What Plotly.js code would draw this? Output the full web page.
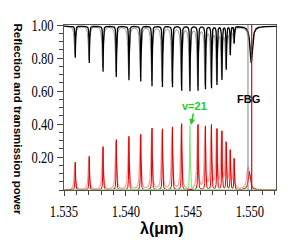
<!DOCTYPE html>
<html>
<head>
<meta charset="utf-8">
<script src="https://cdn.plot.ly/plotly-3.0.1.min.js"></script>
<style>html,body{margin:0;padding:0;background:#fff;}#chart{width:292px;height:246px;}</style>
</head>
<body>
<div id="chart"></div>
<script>
// ---- data (wavelength in micrometres) ----
const resonanceWl = [1.53591, 1.53704, 1.53815, 1.53922, 1.54024, 1.54119, 1.54210, 1.54294, 1.54375, 1.54449,
                     1.54516, 1.54581, 1.54641, 1.54690, 1.54734, 1.54774, 1.54809, 1.54842, 1.54873];
const transmissionPeak = [0.17, 0.205, 0.265, 0.305, 0.325, 0.34, 0.375, 0.37, 0.385, 0.405,
                          0.395, 0.40, 0.39, 0.395, 0.37, 0.355, 0.29, 0.24, 0.19];
const reflectionDip = [0.80, 0.77, 0.715, 0.685, 0.665, 0.655, 0.63, 0.625, 0.62, 0.60,
                       0.60, 0.60, 0.61, 0.62, 0.64, 0.67, 0.73, 0.82, 0.89];
const highlightIndex = 10;           // v = 21
const highlightLabel = "v=21";
const fbgLine = 1.55014;             // FBG reflection line
const fbgMarker = 1.54984;           // grey marker line
const fbgDipCentre = 1.55010, fbgDipMin = 0.77;
const fbgBumpCentre = 1.54985, fbgBumpHeight = 0.14;
const xTickVals = [1.535, 1.540, 1.545, 1.550];
const xTickText = ["1.535", "1.540", "1.545", "1.550"];
const yTickVals = [0.2, 0.4, 0.6, 0.8, 1.0];
const yTickText = ["0.20", "0.40", "0.60", "0.80", "1.00"];

// ---- rendering helpers (line shape only) ----
const xMin = 1.535, xMax = 1.5521, step = 0.000004;
const grid = [];
for (let x = xMin; x <= xMax; x += step) grid.push(x);
function lor(x, c, w) { const d = (x - c) / w; return 1 / (1 + d * d); }
function curve(base, sign, centres, amps, w, shift) {
  return grid.map(x => {
    let v = base;
    for (let i = 0; i < centres.length; i++) v += sign * amps[i] * lor(x, centres[i] + shift, w);
    return v;
  });
}
const dipDepth = reflectionDip.map(v => 0.993 - v);
const redIdx = resonanceWl.map((_, i) => i).filter(i => i !== highlightIndex);
const redC = redIdx.map(i => resonanceWl[i]), redA = redIdx.map(i => transmissionPeak[i]);

// grey & black reflection curves
const greyY = curve(0.993, -1, resonanceWl, dipDepth.map(d => d * 0.9), 0.00006, -0.00003)
  .map((v, k) => v - 0.14 * lor(grid[k], fbgDipCentre - 0.00003, 0.00018));
const blackY = curve(0.993, -1, resonanceWl, dipDepth, 0.000022, 0)
  .map((v, k) => v - (0.993 - fbgDipMin) * lor(grid[k], fbgDipCentre, 0.00011));
// pink & red transmission curves
const pinkY = curve(0, 1, redC, redA.map(a => a * 0.95), 0.00006, -0.00004)
  .map((v, k) => v + fbgBumpHeight * lor(grid[k], fbgBumpCentre, 0.00012));
const redY = curve(0, 1, redC, redA, 0.000022, 0)
  .map((v, k) => v + 0.8 * fbgBumpHeight * lor(grid[k], fbgBumpCentre + 0.0001, 0.0001));
const greenY = curve(0, 1, [resonanceWl[highlightIndex]], [transmissionPeak[highlightIndex]], 0.00003, 0);

const traces = [
  {x: grid, y: greyY, mode: 'lines', line: {color: '#9a9a9a', width: 1}, hoverinfo: 'skip'},
  {x: grid, y: blackY, mode: 'lines', line: {color: '#000000', width: 1.3}, hoverinfo: 'skip'},
  {x: grid, y: pinkY, mode: 'lines', line: {color: '#f4a0a0', width: 1.2}, hoverinfo: 'skip'},
  {x: grid, y: redY, mode: 'lines', line: {color: '#e00000', width: 1}, hoverinfo: 'skip'},
  {x: grid, y: greenY, mode: 'lines', line: {color: '#80e880', width: 1.2}, hoverinfo: 'skip'},
  {x: [fbgMarker, fbgMarker], y: [0, 1], mode: 'lines', line: {color: '#808080', width: 1}, hoverinfo: 'skip'},
  {x: [fbgLine, fbgLine], y: [0, 1], mode: 'lines', line: {color: '#d01010', width: 1.2}, hoverinfo: 'skip'}
];

const tickFont = {family: 'Liberation Serif', size: 17, color: '#000'};
const layout = {
  width: 292, height: 246,
  margin: {l: 64, r: 16, t: 25, b: 56},
  paper_bgcolor: '#fff', plot_bgcolor: '#fff',
  showlegend: false,
  xaxis: {
    range: [xMin, xMax], tickmode: 'array', tickvals: xTickVals, ticktext: xTickText,
    ticks: 'outside', ticklen: 5, tickcolor: '#444', tickfont: tickFont,
    showline: true, linecolor: '#555', linewidth: 1, mirror: true,
    showgrid: false, zeroline: false, ticklabelstandoff: 1,
    minor: {tickmode: 'linear', tick0: 1.535, dtick: 0.001, ticks: 'outside', ticklen: 4, tickcolor: '#444'}
  },
  yaxis: {
    range: [0, 1], tickmode: 'array', tickvals: yTickVals, ticktext: yTickText,
    ticks: 'outside', ticklen: 6, tickcolor: '#444', tickfont: tickFont,
    showline: true, linecolor: '#555', linewidth: 1, mirror: true,
    showgrid: false, zeroline: false,
    minor: {tickmode: 'linear', tick0: 0, dtick: 0.05, ticks: 'outside', ticklen: 4, tickcolor: '#444'}
  },
  annotations: [
    {xref: 'paper', yref: 'paper', x: -0.219, y: 0.43, textangle: 90, showarrow: false,
     text: '<b>Reflection and transmission power</b>', xanchor: 'center', yanchor: 'middle',
     font: {family: 'Liberation Sans', size: 11.5, color: '#000'}},
    {xref: 'paper', yref: 'paper', x: 0.46, y: -0.236, showarrow: false,
     text: '<b>λ(μm)</b>', xanchor: 'center', yanchor: 'middle',
     font: {family: 'Liberation Sans', size: 16, color: '#000'}},
    {xref: 'x', yref: 'y', x: 1.54992, y: 0.552, showarrow: false, text: '<b>FBG</b>',
     xanchor: 'center', yanchor: 'middle',
     font: {family: 'Liberation Sans', size: 11, color: '#000'}},
    {xref: 'x', yref: 'y', x: 1.54524, y: 0.394, showarrow: true, ax: 4, ay: -19,
     text: '<b>' + highlightLabel + '</b>', arrowhead: 2, arrowsize: 0.8, arrowwidth: 1.5,
     arrowcolor: '#22cc22',
     font: {family: 'Liberation Sans', size: 11, color: '#22cc22'}}
  ]
};
Plotly.newPlot('chart', traces, layout, {staticPlot: true, displayModeBar: false}).then(gd => {
  // condense the serif tick labels horizontally, as in the reference
  gd.querySelectorAll('.xtick text, .ytick text').forEach(t => {
    const w = t.getComputedTextLength();
    t.setAttribute('textLength', (w * 0.74).toFixed(1));
    t.setAttribute('lengthAdjust', 'spacingAndGlyphs');
  });
});
</script>
</body>
</html>
